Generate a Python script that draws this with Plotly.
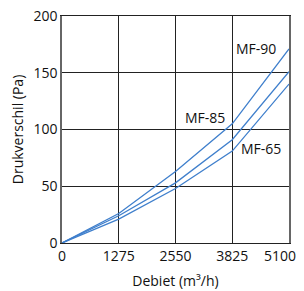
import plotly.graph_objects as go

debiet = [0, 1275, 2550, 3825, 5100]
mf90 = [0, 26, 63, 105, 171]
mf85 = [0, 24, 53, 91, 151]
mf65 = [0, 21, 48, 81, 140]
series = [("MF-90", mf90), ("MF-85", mf85), ("MF-65", mf65)]
labels = [("MF-90", 4360, 171), ("MF-85", 3210, 111), ("MF-65", 4470, 83)]
x_ticks = [0, 1275, 2550, 3825, 5100]
x_tick_text = ["0", "1275", "2550", "3825", "5100\u00a0\u00a0\u00a0\u00a0\u00a0"]
y_ticks = [0, 50, 100, 150, 200]

fig = go.Figure()
for name, vals in series:
    fig.add_trace(go.Scatter(x=debiet, y=vals, mode="lines", name=name,
                             line=dict(color="#3f7fcc", width=1.3)))
for txt, x, y in labels:
    fig.add_annotation(x=x, y=y, text=txt, showarrow=False,
                       font=dict(size=14, color="#111"))

fig.update_layout(
    width=296, height=283,
    margin=dict(l=54, r=15, t=8, b=48),
    paper_bgcolor="white", plot_bgcolor="white",
    showlegend=False,
    font=dict(family="Open Sans, Noto Sans, sans-serif", size=14, color="#111"),
)
fig.update_xaxes(range=[0, 5100], tickvals=x_ticks, ticktext=x_tick_text,
                 showgrid=True, gridcolor="#222", gridwidth=1,
                 showline=True, linecolor="#222", linewidth=1, mirror=True,
                 zeroline=False, ticks="", automargin=False, ticklabeloverflow="allow",
                 title=dict(text="Debiet (m³/h)", standoff=12, font=dict(size=14)))
fig.update_yaxes(range=[0, 200], tickvals=y_ticks,
                 showgrid=True, gridcolor="#222", gridwidth=1,
                 showline=True, linecolor="#666", linewidth=1.5, mirror=True,
                 zeroline=False, ticks="", automargin=False, ticklabeloverflow="allow",
                 title=dict(text="Drukverschil (Pa)", standoff=8, font=dict(size=14)))
fig.write_html("out.html")
